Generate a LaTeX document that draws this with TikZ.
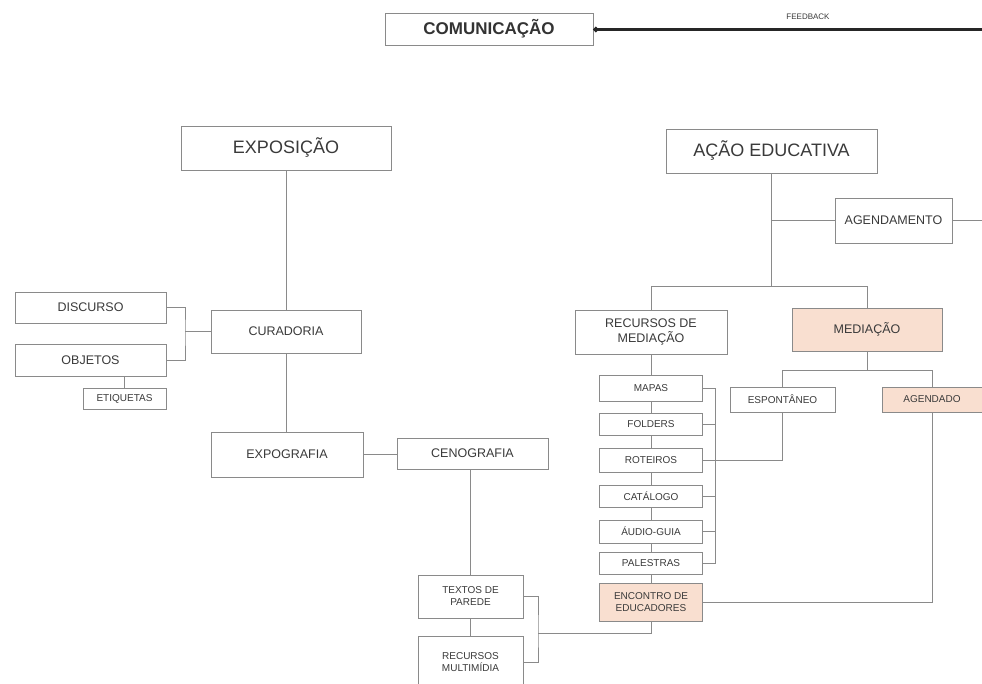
\documentclass[tikz,border=0pt]{standalone}
\usepackage{fontspec}
\setmainfont{Liberation Sans}
\usetikzlibrary{arrows.meta}
\definecolor{peach}{HTML}{F9DFD0}
\definecolor{edge}{HTML}{8A8A8A}
\definecolor{ink}{HTML}{3A3A3A}

\begin{document}
\begin{tikzpicture}[x=1pt,y=-1pt,
  box/.style={draw=edge, line width=0.9pt, fill=white, text=ink, inner sep=2pt, align=center},
  wire/.style={draw=edge, line width=0.9pt},
  big/.style={font=\fontsize{18}{20}\selectfont},
  mid/.style={font=\fontsize{12.5}{15}\selectfont},
  small/.style={font=\fontsize{10}{12}\selectfont},
  hot/.style={fill=peach},
  feedback/.style={draw=black!85, line width=2.5pt, -{Circle[length=5pt]}},
]
\clip (0,0) rectangle (982,684);
\fill[white] (0,0) rectangle (982,684);

% top: communication and the feedback line
\node[box, text=black!80, font=\bfseries\fontsize{17}{20}\selectfont, minimum width=208, minimum height=32] (com) at (489,29) {COMUNICAÇÃO};
\coordinate (fbEnd) at (982,29.5);
\draw[feedback] (fbEnd) -- (com.east |- fbEnd);
\node[text=ink, font=\fontsize{8}{9}\selectfont, inner sep=0pt] (fbLabel) at (808,17) {FEEDBACK};

% left branch: exhibition
\node[box, big, minimum width=210, minimum height=44] (expo) at (286,148) {EXPOSIÇÃO};
\node[box, mid, minimum width=150, minimum height=43] (cur) at (286,331.5) {CURADORIA};
\node[box, mid, minimum width=152, minimum height=45] (expog) at (287,454.5) {EXPOGRAFIA};
\node[box, mid, minimum width=151, minimum height=31] (disc) at (90.5,307.5) {DISCURSO};
\node[box, mid, minimum width=151, minimum height=32] (obj) at (90.5,360) {OBJETOS};
\node[box, small, minimum width=83, minimum height=21] (etiq) at (124.5,398.5) {ETIQUETAS};
\node[box, mid, minimum width=151, minimum height=31] (ceno) at (472.5,453.5) {CENOGRAFIA};
\node[box, small, minimum width=105, minimum height=43] (textos) at (470.5,596.5) {TEXTOS DE\\PAREDE};
\node[box, small, minimum width=105, minimum height=52] (multi) at (470.5,662) {RECURSOS\\MULTIMÍDIA};

\draw[wire] (expo.south) -- (cur.north);
\draw[wire] (cur.south) -- (cur.south |- expog.north);
\coordinate (bL) at (185,331.5);
\draw[wire] (disc.east) -| (bL) |- (obj.east);
\draw[wire] (bL) -- (cur.west);
\draw[wire] (etiq.north) -- (etiq.north |- obj.south);
\draw[wire] (expog.east) -- (ceno.west |- expog.east);
\draw[wire] (textos.north) -- (textos.north |- ceno.south);
\draw[wire] (textos.south) -- (multi.north);

% right branch: educational action
\node[box, big, minimum width=211, minimum height=44] (acao) at (771.5,151) {AÇÃO EDUCATIVA};
\node[box, mid, minimum width=117, minimum height=45] (agend) at (893.5,220.5) {AGENDAMENTO};
\node[box, mid, minimum width=152, minimum height=44] (recm) at (651,332) {RECURSOS DE\\MEDIAÇÃO};
\node[box, mid, hot, minimum width=150, minimum height=43] (med) at (867,329.5) {MEDIAÇÃO};
\node[box, small, minimum width=105, minimum height=25] (esp) at (782.5,399.5) {ESPONTÂNEO};
\node[box, small, hot, minimum width=100, minimum height=25] (agd) at (932,399.5) {AGENDADO};

% mediation resources column
\node[box, small, minimum width=103, minimum height=26] (mapas) at (651,388.5) {MAPAS};
\node[box, small, minimum width=103, minimum height=22] (folders) at (651,424) {FOLDERS};
\node[box, small, minimum width=103, minimum height=24] (roteiros) at (651,460) {ROTEIROS};
\node[box, small, minimum width=103, minimum height=22] (catalogo) at (651,496) {CATÁLOGO};
\node[box, small, minimum width=103, minimum height=23] (audio) at (651,531.5) {ÁUDIO-GUIA};
\node[box, small, minimum width=103, minimum height=22] (palestras) at (651,563) {PALESTRAS};
\node[box, small, hot, minimum width=103, minimum height=38] (enc) at (651,602.5) {ENCONTRO DE\\EDUCADORES};

\coordinate (hb) at (0,286);
\coordinate (hm) at (0,370);
\coordinate (agEnd) at (982,220.5);
\draw[wire] (acao.south) -- (acao.south |- hb);
\draw[wire] (recm.north) |- (med.north |- hb) -- (med.north);
\draw[wire] (acao.south |- agend.west) -- (agend.west);
\draw[wire] (agend.east) -- (agEnd);
\draw[wire] (med.south) -- (med.south |- hm);
\draw[wire] (esp.north) |- (agd.north |- hm) -- (agd.north);

\draw[wire] (recm.south) -- (mapas.north);
\draw[wire] (mapas.south) -- (folders.north);
\draw[wire] (folders.south) -- (roteiros.north);
\draw[wire] (roteiros.south) -- (catalogo.north);
\draw[wire] (catalogo.south) -- (audio.north);
\draw[wire] (audio.south) -- (palestras.north);
\draw[wire] (palestras.south) -- (enc.north);

\coordinate (sp) at (715,0);
\draw[wire] (mapas.east) -| (sp |- palestras.east) -- (palestras.east);
\draw[wire] (folders.east) -- (folders.east -| sp);
\draw[wire] (catalogo.east) -- (catalogo.east -| sp);
\draw[wire] (audio.east) -- (audio.east -| sp);
\draw[wire] (esp.south) |- (roteiros.east);
\draw[wire] (agd.south) |- (enc.east);

% wall texts and multimedia joined to the educators' meeting
\coordinate (bR) at (538,633);
\draw[wire] (textos.east) -| (bR) |- (multi.east);
\draw[wire] (bR) -| (enc.south);
\end{tikzpicture}
\end{document}
